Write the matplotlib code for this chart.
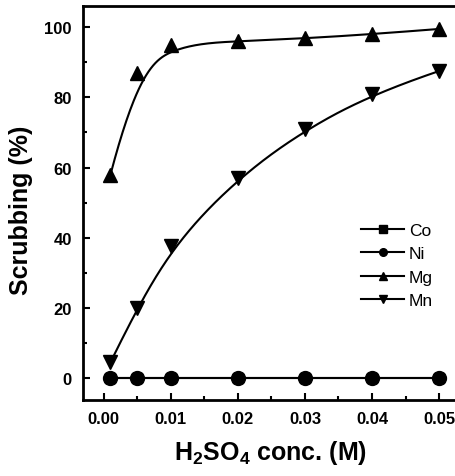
import numpy as np
import matplotlib.pyplot as plt
from matplotlib.ticker import MultipleLocator

plt.rcParams['font.family'] = ['Liberation Sans', 'DejaVu Sans']
plt.rcParams['mathtext.fontset'] = 'custom'
plt.rcParams['mathtext.bf'] = 'Liberation Sans:bold'
plt.rcParams['mathtext.rm'] = 'Liberation Sans'

conc = [0.001, 0.005, 0.01, 0.02, 0.03, 0.04, 0.05]
co = [0, 0, 0, 0, 0, 0, 0]
ni = [0, 0, 0, 0, 0, 0, 0]
mg = [58, 87, 95, 96, 96.8, 98, 99.5]
mn = [4.5, 20, 37.5, 57, 71, 81, 87.5]


def bspline(xs, ys, n=300, k=3):
    """Clamped cubic B-spline through the control points (Origin style)."""
    pts = np.column_stack([xs, ys]).astype(float)
    m = len(pts)
    inner = np.linspace(0, 1, m - k + 1)
    knots = np.concatenate([np.zeros(k), inner, np.ones(k)])
    t = np.linspace(0, 1, n)
    t[-1] -= 1e-9
    # Cox-de Boor
    N = np.zeros((n, len(knots) - 1))
    for i in range(len(knots) - 1):
        N[:, i] = (t >= knots[i]) & (t < knots[i + 1])
    for d in range(1, k + 1):
        Nn = np.zeros((n, len(knots) - 1 - d))
        for i in range(len(knots) - 1 - d):
            a = knots[i + d] - knots[i]
            b = knots[i + d + 1] - knots[i + 1]
            left = (t - knots[i]) / a * N[:, i] if a > 0 else 0
            right = (knots[i + d + 1] - t) / b * N[:, i + 1] if b > 0 else 0
            Nn[:, i] = left + right
        N = Nn
    c = N @ pts
    return c[:, 0], c[:, 1]


fig = plt.figure(figsize=(4.56, 4.77), dpi=100)
ax = fig.add_axes([0.182, 0.159, 0.822, 0.826])

series = [('Co', co, 's', 6.5), ('Ni', ni, 'o', 10), ('Mg', mg, '^', 10), ('Mn', mn, 'v', 10)]
for name, ys, mk, ms in series:
    sx, sy = bspline(conc, ys)
    ax.plot(sx, sy, color='black', lw=1.5)
    ax.plot(conc, ys, linestyle='none', marker=mk, ms=ms, color='black')
    ax.plot([], [], color='black', lw=1.5, marker=mk, ms=5.5, label=name)

ax.set_xlim(-0.0031, 0.0528)
ax.set_ylim(-6.3, 106)
ax.xaxis.set_major_locator(MultipleLocator(0.01))
ax.xaxis.set_minor_locator(MultipleLocator(0.005))
ax.yaxis.set_major_locator(MultipleLocator(20))
ax.yaxis.set_minor_locator(MultipleLocator(10))
ax.xaxis.set_major_formatter(plt.FuncFormatter(lambda v, p: f'{v:.2f}'))
ax.tick_params(which='both', direction='in', width=1.5, labelsize=12, top=False, right=False)
ax.tick_params(which='major', length=5, pad=8)
ax.tick_params(which='minor', length=3)
for lab in ax.get_xticklabels() + ax.get_yticklabels():
    lab.set_fontweight('bold')
for s in ax.spines.values():
    s.set_linewidth(2)

ax.set_xlabel(r'H$_\mathbf{2}$SO$_\mathbf{4}$ conc. (M)', fontsize=18, fontweight='bold')
ax.set_ylabel('Scrubbing (%)', fontsize=18, fontweight='bold')
ax.xaxis.set_label_coords(0.5, -0.095)
ax.yaxis.set_label_coords(-0.133, 0.485)

ax.legend(loc='upper left', bbox_to_anchor=(0.7, 0.49), frameon=False, fontsize=12.5,
          handlelength=2.5, handletextpad=0.25, labelspacing=0.48)

fig.savefig('out.png', dpi=100)
